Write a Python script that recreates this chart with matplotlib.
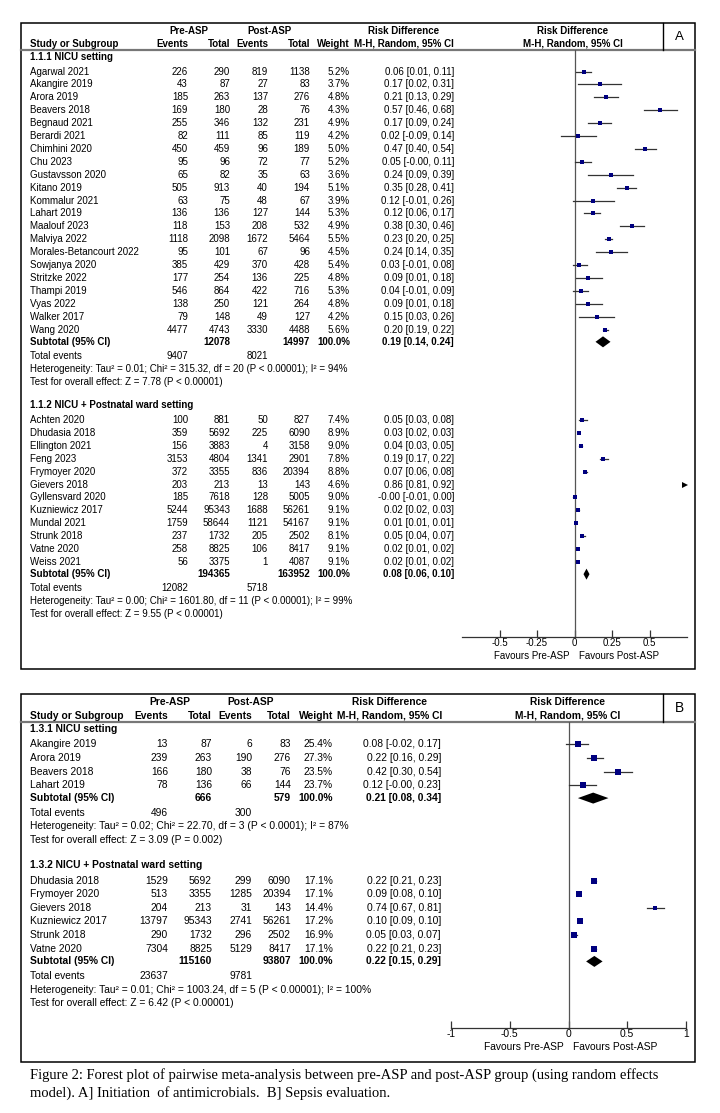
import matplotlib
matplotlib.use('Agg')
import matplotlib.pyplot as plt
from matplotlib.patches import Rectangle

plt.rcParams['font.family'] = ['Liberation Sans', 'DejaVu Sans']

# ---------- A] Initiation of antimicrobials ----------
a1_title = '1.1.1 NICU setting'
a1_study = ['Agarwal 2021', 'Akangire 2019', 'Arora 2019', 'Beavers 2018', 'Begnaud 2021',
            'Berardi 2021', 'Chimhini 2020', 'Chu 2023', 'Gustavsson 2020', 'Kitano 2019',
            'Kommalur 2021', 'Lahart 2019', 'Maalouf 2023', 'Malviya 2022',
            'Morales-Betancourt 2022', 'Sowjanya 2020', 'Stritzke 2022', 'Thampi 2019',
            'Vyas 2022', 'Walker 2017', 'Wang 2020']
a1_pre_ev = [226, 43, 185, 169, 255, 82, 450, 95, 65, 505, 63, 136, 118, 1118, 95, 385, 177, 546, 138, 79, 4477]
a1_pre_tot = [290, 87, 263, 180, 346, 111, 459, 96, 82, 913, 75, 136, 153, 2098, 101, 429, 254, 864, 250, 148, 4743]
a1_post_ev = [819, 27, 137, 28, 132, 85, 96, 72, 35, 40, 48, 127, 208, 1672, 67, 370, 136, 422, 121, 49, 3330]
a1_post_tot = [1138, 83, 276, 76, 231, 119, 189, 77, 63, 194, 67, 144, 532, 5464, 96, 428, 225, 716, 264, 127, 4488]
a1_weight = [5.2, 3.7, 4.8, 4.3, 4.9, 4.2, 5.0, 5.2, 3.6, 5.1, 3.9, 5.3, 4.9, 5.5, 4.5, 5.4, 4.8, 5.3, 4.8, 4.2, 5.6]
a1_rd = [0.06, 0.17, 0.21, 0.57, 0.17, 0.02, 0.47, 0.05, 0.24, 0.35, 0.12, 0.12, 0.38, 0.23, 0.24, 0.03, 0.09, 0.04, 0.09, 0.15, 0.20]
a1_lo = [0.01, 0.02, 0.13, 0.46, 0.09, -0.09, 0.40, -0.0, 0.09, 0.28, -0.01, 0.06, 0.30, 0.20, 0.14, -0.01, 0.01, -0.01, 0.01, 0.03, 0.19]
a1_hi = [0.11, 0.31, 0.29, 0.68, 0.24, 0.14, 0.54, 0.11, 0.39, 0.41, 0.26, 0.17, 0.46, 0.25, 0.35, 0.08, 0.18, 0.09, 0.18, 0.26, 0.22]
a1_sub = [12078, 14997, 0.19, 0.14, 0.24]
a1_events = [9407, 8021]
a1_het = 'Heterogeneity: Tau² = 0.01; Chi² = 315.32, df = 20 (P < 0.00001); I² = 94%'
a1_test = 'Test for overall effect: Z = 7.78 (P < 0.00001)'

a2_title = '1.1.2 NICU + Postnatal ward setting'
a2_study = ['Achten 2020', 'Dhudasia 2018', 'Ellington 2021', 'Feng 2023', 'Frymoyer 2020',
            'Gievers 2018', 'Gyllensvard 2020', 'Kuzniewicz 2017', 'Mundal 2021',
            'Strunk 2018', 'Vatne 2020', 'Weiss 2021']
a2_pre_ev = [100, 359, 156, 3153, 372, 203, 185, 5244, 1759, 237, 258, 56]
a2_pre_tot = [881, 5692, 3883, 4804, 3355, 213, 7618, 95343, 58644, 1732, 8825, 3375]
a2_post_ev = [50, 225, 4, 1341, 836, 13, 128, 1688, 1121, 205, 106, 1]
a2_post_tot = [827, 6090, 3158, 2901, 20394, 143, 5005, 56261, 54167, 2502, 8417, 4087]
a2_weight = [7.4, 8.9, 9.0, 7.8, 8.8, 4.6, 9.0, 9.1, 9.1, 8.1, 9.1, 9.1]
a2_rd = [0.05, 0.03, 0.04, 0.19, 0.07, 0.86, -0.0, 0.02, 0.01, 0.05, 0.02, 0.02]
a2_lo = [0.03, 0.02, 0.03, 0.17, 0.06, 0.81, -0.01, 0.02, 0.01, 0.04, 0.01, 0.01]
a2_hi = [0.08, 0.03, 0.05, 0.22, 0.08, 0.92, 0.00, 0.03, 0.01, 0.07, 0.02, 0.02]
a2_sub = [194365, 163952, 0.08, 0.06, 0.10]
a2_events = [12082, 5718]
a2_het = 'Heterogeneity: Tau² = 0.00; Chi² = 1601.80, df = 11 (P < 0.00001); I² = 99%'
a2_test = 'Test for overall effect: Z = 9.55 (P < 0.00001)'

a_ticks = [-0.5, -0.25, 0, 0.25, 0.5]
a_ticklabels = ['-0.5', '-0.25', '0', '0.25', '0.5']

# ---------- B] Sepsis evaluation ----------
b1_title = '1.3.1 NICU setting'
b1_study = ['Akangire 2019', 'Arora 2019', 'Beavers 2018', 'Lahart 2019']
b1_pre_ev = [13, 239, 166, 78]
b1_pre_tot = [87, 263, 180, 136]
b1_post_ev = [6, 190, 38, 66]
b1_post_tot = [83, 276, 76, 144]
b1_weight = [25.4, 27.3, 23.5, 23.7]
b1_rd = [0.08, 0.22, 0.42, 0.12]
b1_lo = [-0.02, 0.16, 0.30, -0.0]
b1_hi = [0.17, 0.29, 0.54, 0.23]
b1_sub = [666, 579, 0.21, 0.08, 0.34]
b1_events = [496, 300]
b1_het = 'Heterogeneity: Tau² = 0.02; Chi² = 22.70, df = 3 (P < 0.0001); I² = 87%'
b1_test = 'Test for overall effect: Z = 3.09 (P = 0.002)'

b2_title = '1.3.2 NICU + Postnatal ward setting'
b2_study = ['Dhudasia 2018', 'Frymoyer 2020', 'Gievers 2018', 'Kuzniewicz 2017', 'Strunk 2018', 'Vatne 2020']
b2_pre_ev = [1529, 513, 204, 13797, 290, 7304]
b2_pre_tot = [5692, 3355, 213, 95343, 1732, 8825]
b2_post_ev = [299, 1285, 31, 2741, 296, 5129]
b2_post_tot = [6090, 20394, 143, 56261, 2502, 8417]
b2_weight = [17.1, 17.1, 14.4, 17.2, 16.9, 17.1]
b2_rd = [0.22, 0.09, 0.74, 0.10, 0.05, 0.22]
b2_lo = [0.21, 0.08, 0.67, 0.09, 0.03, 0.21]
b2_hi = [0.23, 0.10, 0.81, 0.10, 0.07, 0.23]
b2_sub = [115160, 93807, 0.22, 0.15, 0.29]
b2_events = [23637, 9781]
b2_het = 'Heterogeneity: Tau² = 0.01; Chi² = 1003.24, df = 5 (P < 0.00001); I² = 100%'
b2_test = 'Test for overall effect: Z = 6.42 (P < 0.00001)'

b_ticks = [-1, -0.5, 0, 0.5, 1]
b_ticklabels = ['-1', '-0.5', '0', '0.5', '1']

caption = ('Figure 2: Forest plot of pairwise meta-analysis between pre-ASP and post-ASP group (using random effects\n'
           'model). A] Initiation  of antimicrobials.  B] Sepsis evaluation.')


def group(title, study, pre_ev, pre_tot, post_ev, post_tot, weight, rd, lo, hi, sub, events, het, test):
    return dict(title=title, study=study, pre_ev=pre_ev, pre_tot=pre_tot, post_ev=post_ev,
                post_tot=post_tot, weight=weight, rd=rd, lo=lo, hi=hi, sub=sub,
                events=events, het=het, test=test)


groups_a = [group(a1_title, a1_study, a1_pre_ev, a1_pre_tot, a1_post_ev, a1_post_tot, a1_weight,
                  a1_rd, a1_lo, a1_hi, a1_sub, a1_events, a1_het, a1_test),
            group(a2_title, a2_study, a2_pre_ev, a2_pre_tot, a2_post_ev, a2_post_tot, a2_weight,
                  a2_rd, a2_lo, a2_hi, a2_sub, a2_events, a2_het, a2_test)]
groups_b = [group(b1_title, b1_study, b1_pre_ev, b1_pre_tot, b1_post_ev, b1_post_tot, b1_weight,
                  b1_rd, b1_lo, b1_hi, b1_sub, b1_events, b1_het, b1_test),
            group(b2_title, b2_study, b2_pre_ev, b2_pre_tot, b2_post_ev, b2_post_tot, b2_weight,
                  b2_rd, b2_lo, b2_hi, b2_sub, b2_events, b2_het, b2_test)]

W, H = 720, 1113
fig = plt.figure(figsize=(W / 100, H / 100), dpi=100)
fig.patch.set_facecolor('white')
bg = fig.add_axes([0, 0, 1, 1])
bg.set_xlim(0, W)
bg.set_ylim(H, 0)
bg.axis('off')

SQ = '#00007f'
LINE = '#333333'


def draw_panel(groups, label, box, hdr_y, cols, y0, step, fs, fx, xlim, ticks, ticklabels):
    left, top, right, bottom = box
    bg.add_patch(Rectangle((left, top), right - left, bottom - top, fill=False, lw=1.1, ec='black'))
    line_y = hdr_y[1] + 6.5
    bg.plot([left, right], [line_y, line_y], color='#777777', lw=1.6)
    bg.plot([663, 663], [top, line_y], color='black', lw=1)
    bg.text((663 + right) / 2, (top + line_y) / 2, label, fontsize=fs + 2.5, ha='center', va='center')

    # headers
    b = dict(fontsize=fs, fontweight='bold', va='center')
    bg.text(cols['pre_hdr'], hdr_y[0], 'Pre-ASP', ha='center', **b)
    bg.text(cols['post_hdr'], hdr_y[0], 'Post-ASP', ha='center', **b)
    bg.text(cols['rd_hdr'], hdr_y[0], 'Risk Difference', ha='center', **b)
    bg.text(cols['forest_hdr'], hdr_y[0], 'Risk Difference', ha='center', **b)
    bg.text(cols['study'], hdr_y[1], 'Study or Subgroup', ha='left', **b)
    bg.text(cols['pre_ev'], hdr_y[1], 'Events', ha='right', **b)
    bg.text(cols['pre_tot'], hdr_y[1], 'Total', ha='right', **b)
    bg.text(cols['post_ev'], hdr_y[1], 'Events', ha='right', **b)
    bg.text(cols['post_tot'], hdr_y[1], 'Total', ha='right', **b)
    bg.text(cols['weight'], hdr_y[1], 'Weight', ha='right', **b)
    bg.text(cols['rd_hdr'], hdr_y[1], 'M-H, Random, 95% CI', ha='center', **b)
    bg.text(cols['forest_hdr'], hdr_y[1], 'M-H, Random, 95% CI', ha='center', **b)

    # forest axes in pixel rows
    ax_bottom = fx[2]
    ax = fig.add_axes([fx[0] / W, 1 - ax_bottom / H, (fx[1] - fx[0]) / W, (ax_bottom - line_y) / H])
    ax.set_xlim(*xlim)
    ax.set_ylim(ax_bottom, line_y)
    ax.patch.set_visible(False)
    for s in ['left', 'right', 'top']:
        ax.spines[s].set_visible(False)
    ax.spines['bottom'].set_color('#333333')
    ax.spines['bottom'].set_linewidth(0.9)
    ax.set_yticks([])
    ax.set_xticks(ticks)
    ax.set_xticklabels(ticklabels)
    ax.tick_params(axis='x', direction='in', length=5, width=0.9, color='#333333', pad=1, labelsize=fs)
    ax.axvline(0, color='#555555', lw=0.9)
    ax.annotate('Favours Pre-ASP', xy=(0, ax_bottom), xytext=(-3.5, -14), textcoords='offset points',
                ha='right', va='center', fontsize=fs)
    ax.annotate('Favours Post-ASP', xy=(0, ax_bottom), xytext=(3.5, -14), textcoords='offset points',
                ha='left', va='center', fontsize=fs)

    n = dict(fontsize=fs, va='center')
    y = y0
    for g in groups:
        bg.text(cols['study'], y, g['title'], ha='left', fontweight='bold', **n)
        ry = y + 1.13 * step
        for i in range(len(g['study'])):
            bg.text(cols['study'], ry, g['study'][i], ha='left', **n)
            bg.text(cols['pre_ev'], ry, str(g['pre_ev'][i]), ha='right', **n)
            bg.text(cols['pre_tot'], ry, str(g['pre_tot'][i]), ha='right', **n)
            bg.text(cols['post_ev'], ry, str(g['post_ev'][i]), ha='right', **n)
            bg.text(cols['post_tot'], ry, str(g['post_tot'][i]), ha='right', **n)
            bg.text(cols['weight'], ry, f"{g['weight'][i]:.1f}%", ha='right', **n)
            rd, lo, hi = g['rd'][i], g['lo'][i], g['hi'][i]
            bg.text(cols['rd'], ry, f"{rd:.2f} [{lo:.2f}, {hi:.2f}]", ha='right', **n)
            if lo > xlim[1]:
                # estimate off the scale: arrow at the right edge
                ax.plot(xlim[1] - 0.009 * (xlim[1] - xlim[0]), ry, marker='>', ms=4.5, mew=0, color='black')
            else:
                ax.plot([lo, hi], [ry, ry], color=LINE, lw=0.9)
                ax.plot(rd, ry, marker='s', ms=1.2 + 0.62 * g['weight'][i] ** 0.5, mew=0,
                        color=SQ, snap=False)
            ry += step
        sy = ry - step + 0.95 * step
        ptot, qtot, srd, slo, shi = g['sub']
        bg.text(cols['study'], sy, 'Subtotal (95% CI)', ha='left', fontweight='bold', **n)
        bg.text(cols['pre_tot'], sy, str(ptot), ha='right', fontweight='bold', **n)
        bg.text(cols['post_tot'], sy, str(qtot), ha='right', fontweight='bold', **n)
        bg.text(cols['weight'], sy, '100.0%', ha='right', fontweight='bold', **n)
        bg.text(cols['rd'], sy, f"{srd:.2f} [{slo:.2f}, {shi:.2f}]", ha='right', fontweight='bold', **n)
        hh = 5.5
        ax.fill([slo, srd, shi, srd], [sy, sy - hh, sy, sy + hh], color='black', lw=0)
        ty = sy + 1.08 * step
        bg.text(cols['study'], ty, 'Total events', ha='left', **n)
        bg.text(cols['pre_ev'], ty, str(g['events'][0]), ha='right', **n)
        bg.text(cols['post_ev'], ty, str(g['events'][1]), ha='right', **n)
        bg.text(cols['study'], ty + step, g['het'], ha='left', **n)
        bg.text(cols['study'], ty + 2 * step, g['test'], ha='left', **n)
        y = ty + 2 * step + 1.85 * step
    return ax


cols_a = dict(study=30, pre_ev=188, pre_tot=230, post_ev=268, post_tot=310, weight=350,
              rd=454, pre_hdr=189, post_hdr=270, rd_hdr=404, forest_hdr=573)
draw_panel(groups_a, 'A', (21, 23, 695, 669), (31, 43.7), cols_a, 57, 12.9, 7.0,
           (462, 687, 637), (-0.75, 0.75), a_ticks, a_ticklabels)

cols_b = dict(study=30, pre_ev=168, pre_tot=212, post_ev=252, post_tot=291, weight=333,
              rd=441, pre_hdr=170, post_hdr=251, rd_hdr=390, forest_hdr=568)
draw_panel(groups_b, 'B', (21, 694, 695, 1062), (702.3, 715.7), cols_b, 729, 13.6, 7.4,
           (451, 686, 1028), (-1, 1), b_ticks, b_ticklabels)

bg.text(30, 1084, caption, ha='left', va='center', fontsize=10.5, family='Liberation Serif',
        linespacing=1.3)

fig.savefig('out.png', dpi=100, facecolor='white')
